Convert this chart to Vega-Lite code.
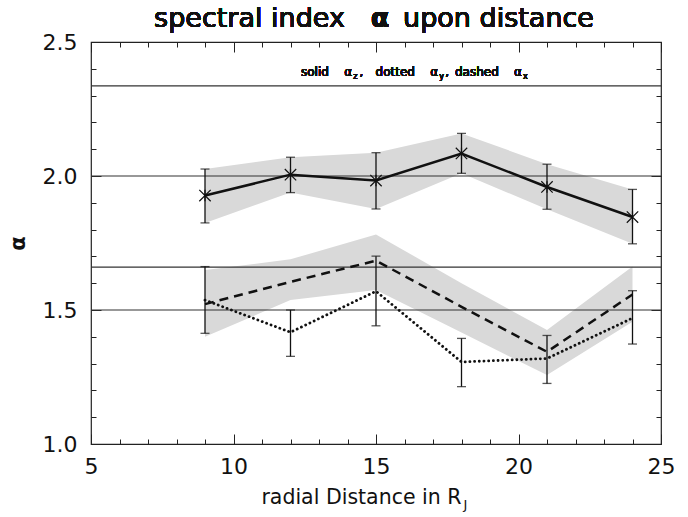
{
  "$schema": "https://vega.github.io/schema/vega-lite/v6.json",
  "width": 570,
  "height": 402,
  "autosize": "none",
  "padding": {"left": 91, "top": 42, "right": 27, "bottom": 73},
  "background": "white",
  "config": {
    "view": {"stroke": "#222", "strokeWidth": 1.2},
    "axis": {"grid": false, "domain": false, "labelFont": "DejaVu Sans", "titleFont": "DejaVu Sans", "labelColor": "#111", "titleColor": "#111", "tickColor": "#222", "tickWidth": 1}
  },
  "datasets": {
    "series": [
      {"series": "z", "dist": 9, "alpha": 1.927, "lo": 1.825, "hi": 2.026},
      {"series": "z", "dist": 12, "alpha": 2.005, "lo": 1.938, "hi": 2.070},
      {"series": "z", "dist": 15, "alpha": 1.983, "lo": 1.877, "hi": 2.087},
      {"series": "z", "dist": 18, "alpha": 2.084, "lo": 2.010, "hi": 2.159},
      {"series": "z", "dist": 21, "alpha": 1.959, "lo": 1.876, "hi": 2.044},
      {"series": "z", "dist": 24, "alpha": 1.847, "lo": 1.747, "hi": 1.950},
      {"series": "y", "dist": 9, "alpha": 1.537, "lo": 1.413, "hi": 1.662},
      {"series": "y", "dist": 12, "alpha": 1.417, "lo": 1.327, "hi": 1.500},
      {"series": "y", "dist": 15, "alpha": 1.570, "lo": 1.441, "hi": 1.701},
      {"series": "y", "dist": 18, "alpha": 1.306, "lo": 1.214, "hi": 1.394},
      {"series": "y", "dist": 21, "alpha": 1.319, "lo": 1.226, "hi": 1.405},
      {"series": "y", "dist": 24, "alpha": 1.470, "lo": 1.373, "hi": 1.572},
      {"series": "x", "dist": 9, "alpha": 1.522, "lo": 1.400, "hi": 1.649},
      {"series": "x", "dist": 12, "alpha": 1.605, "lo": 1.537, "hi": 1.689},
      {"series": "x", "dist": 15, "alpha": 1.684, "lo": 1.575, "hi": 1.782},
      {"series": "x", "dist": 18, "alpha": 1.512, "lo": 1.416, "hi": 1.600},
      {"series": "x", "dist": 21, "alpha": 1.344, "lo": 1.257, "hi": 1.425},
      {"series": "x", "dist": 24, "alpha": 1.558, "lo": 1.456, "hi": 1.662}
    ],
    "levels": [
      {"level": 2.336},
      {"level": 2.0},
      {"level": 1.66},
      {"level": 1.5}
    ]
  },
  "data": {"name": "series"},
  "resolve": {"axis": {"x": "independent", "y": "independent"}},
  "layer": [
    {
      "transform": [{"filter": "datum.series === 'z'"}],
      "mark": {"type": "area", "color": "#d9d9d9", "opacity": 1},
      "encoding": {
        "x": {"field": "dist", "type": "quantitative",
          "scale": {"domain": [5, 25], "nice": false, "zero": false},
          "axis": {"orient": "bottom", "values": [5, 10, 15, 20, 25], "ticks": false, "labelFontSize": 22, "labelPadding": 12, "labelFlush": false, "labelOverlap": false,
            "title": "radial Distance in R", "titleFontSize": 20.5, "titleFontWeight": "normal", "titleAlign": "right", "titleX": 370, "titleY": 59, "titleBaseline": "alphabetic"}},
        "y": {"field": "lo", "type": "quantitative",
          "scale": {"domain": [1.0, 2.5], "nice": false, "zero": false},
          "axis": {"orient": "left", "values": [1.0, 1.5, 2.0, 2.5], "format": ".1f", "ticks": false, "labelFontSize": 22, "labelPadding": 14, "labelOverlap": false, "labelFlush": false,
            "title": "α", "titleFontSize": 21, "titleFontWeight": "bold", "titleX": -73, "titleY": 201, "titleAlign": "center", "titleBaseline": "middle", "titleAngle": 270}},
        "y2": {"field": "hi"}
      }
    },
    {
      "transform": [{"filter": "datum.series === 'x'"}],
      "mark": {"type": "area", "color": "#d9d9d9", "opacity": 1},
      "encoding": {
        "x": {"field": "dist", "type": "quantitative",
          "axis": {"orient": "bottom", "values": [5,6,7,8,9,10,11,12,13,14,15,16,17,18,19,20,21,22,23,24,25], "labels": false,
            "tickSize": {"condition": {"test": "datum.value % 5 === 0", "value": -10}, "value": -5},
            "title": "J", "titleFontSize": 13, "titleFontWeight": "normal", "titleAlign": "left", "titleX": 372, "titleY": 64, "titleBaseline": "alphabetic"}},
        "y": {"field": "lo", "type": "quantitative",
          "axis": {"orient": "left", "values": [1.0,1.1,1.2,1.3,1.4,1.5,1.6,1.7,1.8,1.9,2.0,2.1,2.2,2.3,2.4,2.5], "labels": false, "title": null,
            "tickSize": {"condition": {"test": "abs(datum.value * 2 - round(datum.value * 2)) < 0.01", "value": -10}, "value": -5}}},
        "y2": {"field": "hi"}
      }
    },
    {
      "data": {"name": "levels"},
      "mark": {"type": "rule", "color": "#333", "strokeWidth": 1.2},
      "encoding": {
        "y": {"field": "level", "type": "quantitative",
          "axis": {"orient": "right", "values": [1.0,1.1,1.2,1.3,1.4,1.5,1.6,1.7,1.8,1.9,2.0,2.1,2.2,2.3,2.4,2.5], "labels": false, "title": null,
            "tickSize": {"condition": {"test": "abs(datum.value * 2 - round(datum.value * 2)) < 0.01", "value": -10}, "value": -5}}}
      }
    },
    {
      "transform": [{"filter": "datum.series === 'z'"}],
      "mark": {"type": "line", "color": "#111", "strokeWidth": 2.5},
      "encoding": {
        "x": {"field": "dist", "type": "quantitative",
          "axis": {"orient": "top", "values": [5,6,7,8,9,10,11,12,13,14,15,16,17,18,19,20,21,22,23,24,25], "labels": false, "title": null,
            "tickSize": {"condition": {"test": "datum.value % 5 === 0", "value": -10}, "value": -5}}},
        "y": {"field": "alpha", "type": "quantitative", "axis": null}
      }
    },
    {
      "transform": [{"filter": "datum.series === 'x'"}],
      "mark": {"type": "line", "color": "#111", "strokeWidth": 2.5, "strokeDash": [9, 6]},
      "encoding": {
        "x": {"field": "dist", "type": "quantitative", "axis": null},
        "y": {"field": "alpha", "type": "quantitative", "axis": null}
      }
    },
    {
      "transform": [{"filter": "datum.series === 'y'"}],
      "mark": {"type": "line", "color": "#111", "strokeWidth": 2.8, "strokeDash": [0.1, 4.6], "strokeCap": "round"},
      "encoding": {
        "x": {"field": "dist", "type": "quantitative", "axis": null},
        "y": {"field": "alpha", "type": "quantitative", "axis": null}
      }
    },
    {
      "transform": [{"filter": "datum.series !== 'x'"}],
      "mark": {"type": "errorbar", "ticks": true, "size": 9, "thickness": 1.3, "color": "#111"},
      "encoding": {
        "x": {"field": "dist", "type": "quantitative", "axis": null},
        "y": {"field": "lo", "type": "quantitative", "axis": null},
        "y2": {"field": "hi"}
      }
    },
    {
      "transform": [{"filter": "datum.series === 'z'"}],
      "mark": {"type": "point", "shape": "M-1,-1L1,1M1,-1L-1,1M0,-1L0,1", "size": 130, "filled": false, "stroke": "#111", "strokeWidth": 1.2, "opacity": 1},
      "encoding": {
        "x": {"field": "dist", "type": "quantitative", "axis": null},
        "y": {"field": "alpha", "type": "quantitative", "axis": null}
      }
    },
    {
      "mark": {"type": "text", "text": "spectral index", "align": "right", "baseline": "alphabetic", "dy": -15, "font": "DejaVu Sans", "fontSize": 27, "fontWeight": "normal", "color": "#111"},
      "encoding": {"x": {"datum": 13.91, "type": "quantitative", "axis": null}, "y": {"datum": 2.5, "type": "quantitative", "axis": null}}
    },
    {
      "mark": {"type": "text", "text": "α", "align": "center", "baseline": "alphabetic", "dy": -15, "font": "DejaVu Sans", "fontSize": 27, "fontWeight": "bold", "color": "#111"},
      "encoding": {"x": {"datum": 15.14, "type": "quantitative", "axis": null}, "y": {"datum": 2.5, "type": "quantitative", "axis": null}}
    },
    {
      "mark": {"type": "text", "text": "upon distance", "align": "left", "baseline": "alphabetic", "dy": -15, "font": "DejaVu Sans", "fontSize": 27, "fontWeight": "normal", "color": "#111"},
      "encoding": {"x": {"datum": 15.95, "type": "quantitative", "axis": null}, "y": {"datum": 2.5, "type": "quantitative", "axis": null}}
    },
    {
      "mark": {"type": "text", "text": "solid\u00a0\u00a0\u00a0\u00a0α", "align": "right", "baseline": "alphabetic", "font": "DejaVu Sans", "fontSize": 12, "fontWeight": "normal", "color": "#111"},
      "encoding": {"x": {"datum": 14.16, "type": "quantitative", "axis": null}, "y": {"datum": 2.373, "type": "quantitative", "axis": null}}
    },
    {
      "mark": {"type": "text", "text": "z", "align": "left", "baseline": "alphabetic", "dy": 3, "font": "DejaVu Sans", "fontSize": 8, "color": "#111"},
      "encoding": {"x": {"datum": 14.2, "type": "quantitative", "axis": null}, "y": {"datum": 2.373, "type": "quantitative", "axis": null}}
    },
    {
      "mark": {"type": "text", "text": ",", "align": "left", "baseline": "alphabetic", "font": "DejaVu Sans", "fontSize": 12, "color": "#111"},
      "encoding": {"x": {"datum": 14.42, "type": "quantitative", "axis": null}, "y": {"datum": 2.373, "type": "quantitative", "axis": null}}
    },
    {
      "mark": {"type": "text", "text": "dotted\u00a0\u00a0\u00a0\u00a0α", "align": "right", "baseline": "alphabetic", "font": "DejaVu Sans", "fontSize": 12, "fontWeight": "normal", "color": "#111"},
      "encoding": {"x": {"datum": 17.18, "type": "quantitative", "axis": null}, "y": {"datum": 2.373, "type": "quantitative", "axis": null}}
    },
    {
      "mark": {"type": "text", "text": "y", "align": "left", "baseline": "alphabetic", "dy": 3, "font": "DejaVu Sans", "fontSize": 8, "color": "#111"},
      "encoding": {"x": {"datum": 17.22, "type": "quantitative", "axis": null}, "y": {"datum": 2.373, "type": "quantitative", "axis": null}}
    },
    {
      "mark": {"type": "text", "text": ",", "align": "left", "baseline": "alphabetic", "font": "DejaVu Sans", "fontSize": 12, "color": "#111"},
      "encoding": {"x": {"datum": 17.43, "type": "quantitative", "axis": null}, "y": {"datum": 2.373, "type": "quantitative", "axis": null}}
    },
    {
      "mark": {"type": "text", "text": "dashed\u00a0\u00a0\u00a0\u00a0α", "align": "right", "baseline": "alphabetic", "font": "DejaVu Sans", "fontSize": 12, "fontWeight": "normal", "color": "#111"},
      "encoding": {"x": {"datum": 20.12, "type": "quantitative", "axis": null}, "y": {"datum": 2.373, "type": "quantitative", "axis": null}}
    },
    {
      "mark": {"type": "text", "text": "x", "align": "left", "baseline": "alphabetic", "dy": 3, "font": "DejaVu Sans", "fontSize": 8, "color": "#111"},
      "encoding": {"x": {"datum": 20.16, "type": "quantitative", "axis": null}, "y": {"datum": 2.373, "type": "quantitative", "axis": null}}
    }
  ]
}
